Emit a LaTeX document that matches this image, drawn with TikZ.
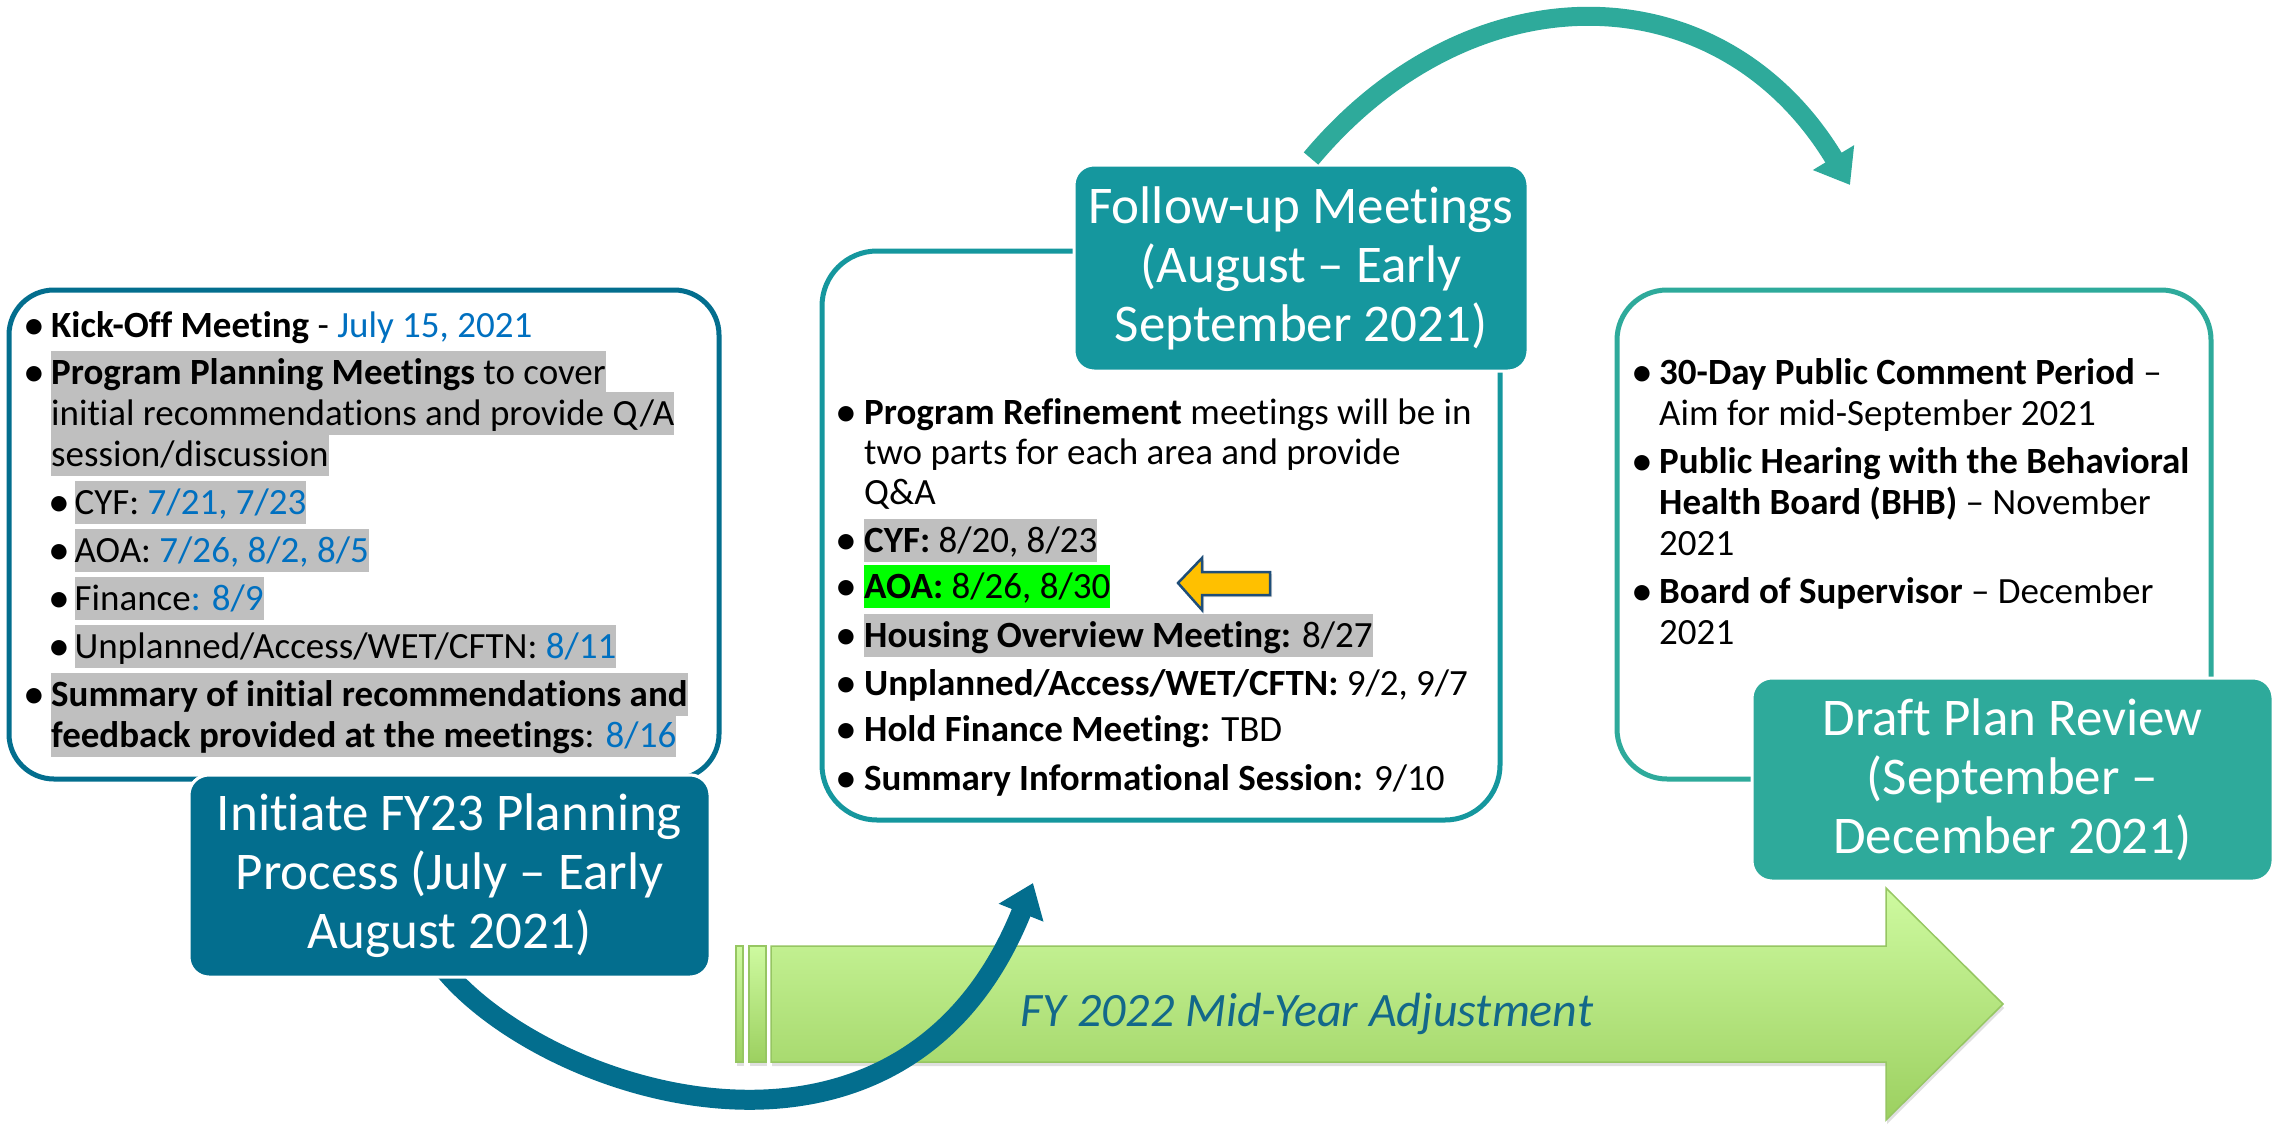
\documentclass[tikz,border=0pt]{standalone}
\usepackage{fontspec}
\setmainfont{Carlito}[Ligatures={NoCommon}]
\usetikzlibrary{arrows.meta,shadows}

\definecolor{deepteal}{RGB}{3,110,142}
\definecolor{midteal}{RGB}{21,151,158}
\definecolor{seateal}{RGB}{46,170,155}
\definecolor{dateblue}{RGB}{0,112,192}
\definecolor{hlgray}{RGB}{191,191,191}
\definecolor{hlgreen}{RGB}{0,255,0}
\definecolor{limetop}{RGB}{206,250,160}
\definecolor{limebot}{RGB}{156,208,96}
\definecolor{limeedge}{RGB}{150,198,98}
\definecolor{adjtext}{RGB}{19,104,138}
\definecolor{amber}{RGB}{255,192,0}
\definecolor{amberedge}{RGB}{31,78,121}

\newcommand{\dotmark}{\raisebox{-2pt}{\scalebox{1.18}{•}}}

\begin{document}
\begin{tikzpicture}[x=1pt,y=-1pt,
  bodyfont/.style={font=\fontsize{37}{41}\selectfont},
  txtline/.style={bodyfont, anchor=base west, inner sep=0pt, text height=33pt, text depth=10pt},
  bulletmark/.style={bodyfont, anchor=base, inner sep=0pt},
  grayhl/.style={fill=hlgray},
  greenhl/.style={fill=hlgreen},
  framebox/.style={line width=5pt, inner sep=0pt, fill=none},
  titlebox/.style={rounded corners=20pt, draw=white, line width=3pt, text=white, align=center,
                   inner sep=0pt, font=\fontsize{53}{59}\selectfont},
  curvedarrow/.style={-{Triangle[width=46pt,length=32pt]}},
  limeshape/.style={draw=limeedge, line width=1.5pt, top color=limetop, bottom color=limebot,
                    drop shadow={opacity=0.25, shadow xshift=1pt, shadow yshift=-4pt}},
]
\useasboundingbox (0,0) rectangle (2282,1124);
\fill[white] (0,0) rectangle (2282,1124);

% ---------- outlined content panels ----------
\node[framebox, draw=deepteal, rounded corners=45pt, minimum width=710pt, minimum height=489pt] (kickframe) at (364,534.5) {};
\node[framebox, draw=midteal, rounded corners=55pt, minimum width=678pt, minimum height=569pt] (refineframe) at (1161,535.5) {};
\node[framebox, draw=seateal, rounded corners=50pt, minimum width=594pt, minimum height=489pt] (reviewframe) at (1914,534.5) {};

% ---------- left panel text ----------
\node[bulletmark] (kb1) at (34,337) {\dotmark};
\node[txtline] (kt1) at (51,337) {\textbf{Kick-Off Meeting} - \textcolor{dateblue}{July 15, 2021}};
\node[bulletmark] (kb2) at (34,384) {\dotmark};
\node[txtline,grayhl] (kt2) at (51,384) {\textbf{Program Planning Meetings} to cover\hspace{8pt}};
\node[txtline,grayhl] (kt3) at (51,425) {initial recommendations and provide Q/A};
\node[txtline,grayhl] (kt4) at (51,466) {session/discussion};
\node[bulletmark] (kb5) at (59,514) {\dotmark};
\node[txtline,grayhl] (kt5) at (74.5,514) {CYF: \textcolor{dateblue}{7/21, 7/23}};
\node[bulletmark] (kb6) at (59,562) {\dotmark};
\node[txtline,grayhl] (kt6) at (74.5,562) {AOA: \textcolor{dateblue}{7/26, 8/2, 8/5}};
\node[bulletmark] (kb7) at (59,610) {\dotmark};
\node[txtline,grayhl] (kt7) at (74.5,610) {Finance\textcolor{dateblue}{: 8/9}};
\node[bulletmark] (kb8) at (59,658) {\dotmark};
\node[txtline,grayhl] (kt8) at (74.5,658) {Unplanned/Access/WET/CFTN: \textcolor{dateblue}{8/11}};
\node[bulletmark] (kb9) at (34,706) {\dotmark};
\node[txtline,grayhl] (kt9) at (51,706) {\textbf{Summary of initial recommendations and}};
\node[txtline,grayhl] (kt10) at (51,747) {\textbf{feedback provided at the meetings}: \textcolor{dateblue}{8/16}};

% ---------- middle panel text ----------
\node[bulletmark] (mb1) at (846,424) {\dotmark};
\node[txtline] (mt1) at (864,424) {\textbf{Program Refinement} meetings will be in};
\node[txtline] (mt2) at (864,464) {two parts for each area and provide};
\node[txtline] (mt3) at (864,504) {Q\&A};
\node[bulletmark] (mb4) at (846,552) {\dotmark};
\node[txtline,grayhl] (mt4) at (864,552) {\textbf{CYF:} 8/20, 8/23};
\node[bulletmark] (mb5) at (846,598) {\dotmark};
\node[txtline,greenhl] (mt5) at (864,598) {\textbf{AOA:} 8/26, 8/30};
\node[bulletmark] (mb6) at (846,647) {\dotmark};
\node[txtline,grayhl] (mt6) at (864,647) {\textbf{Housing Overview Meeting:} 8/27};
\node[bulletmark] (mb7) at (846,695) {\dotmark};
\node[txtline] (mt7) at (864,695) {\textbf{Unplanned/Access/WET/CFTN:} 9/2, 9/7};
\node[bulletmark] (mb8) at (846,741) {\dotmark};
\node[txtline] (mt8) at (864,741) {\textbf{Hold Finance Meeting:} TBD};
\node[bulletmark] (mb9) at (846,790) {\dotmark};
\node[txtline] (mt9) at (864,790) {\textbf{Summary Informational Session:} 9/10};

% ---------- right panel text ----------
\node[bulletmark] (rb1) at (1642,384) {\dotmark};
\node[txtline] (rt1) at (1659,384) {\textbf{30-Day Public Comment Period} –};
\node[txtline] (rt2) at (1659,425) {Aim for mid-September 2021};
\node[bulletmark] (rb3) at (1642,473) {\dotmark};
\node[txtline] (rt3) at (1659,473) {\textbf{Public Hearing with the Behavioral}};
\node[txtline] (rt4) at (1659,514) {\textbf{Health Board (BHB)} – November};
\node[txtline] (rt5) at (1659,555) {2021};
\node[bulletmark] (rb6) at (1642,603) {\dotmark};
\node[txtline] (rt6) at (1659,603) {\textbf{Board of Supervisor} – December};
\node[txtline] (rt7) at (1659,644) {2021};

% ---------- mid-year adjustment block arrow ----------
\path[limeshape] (736,946) rectangle (743,1062);
\path[limeshape] (749,946) rectangle (766,1062);
\path[limeshape] (771,946) -- (1886,946) -- (1886,888) -- (2003,1004) -- (1886,1120)
      -- (1886,1062) -- (771,1062) -- cycle;
\node[font=\fontsize{48}{55}\selectfont\itshape, text=adjtext, anchor=base, inner sep=0pt]
      (adjlabel) at (1307,1026) {FY 2022 Mid-Year Adjustment};

% ---------- phase title boxes and the arrows between them ----------
\coordinate (reachfollow) at (1033,883);
\coordinate (reachdraft) at (1850,185);
\node[titlebox, fill=deepteal, minimum width=521pt, minimum height=202pt] (initbox) at (449.5,876) {};
\draw[deepteal, line width=20pt, curvedarrow]
      ([xshift=-10pt,yshift=15pt]initbox.south) .. controls (535,1090) and (900,1215) .. (reachfollow);
\node[titlebox, fill=deepteal, minimum width=521pt, minimum height=202pt] (inittitle) at (initbox.center)
      {Initiate FY23 Planning\\Process (July – Early\\August 2021)};

\node[titlebox, fill=midteal, minimum width=454pt, minimum height=206pt] (followbox) at (1301,268)
      {Follow-up Meetings\\(August – Early\\September 2021)};
\draw[seateal, line width=19pt, curvedarrow]
      ([xshift=10pt,yshift=5pt]followbox.north) .. controls (1472,-33.5) and (1721,-29) .. (reachdraft);

\node[titlebox, fill=seateal, minimum width=521pt, minimum height=203pt] (draftbox) at (2012.5,779.5)
      {Draft Plan Review\\(September –\\December 2021)};

% ---------- pointer to the AOA line ----------
\draw[fill=amber, draw=amberedge, line width=2.5pt, line join=miter,
      drop shadow={opacity=0.3, shadow xshift=2pt, shadow yshift=-2pt}]
      (1178,583) -- (1202,558) -- (1202,572) -- (1270,572) -- (1270,595) -- (1202,595) -- (1202,610) -- cycle;
\end{tikzpicture}
\end{document}
